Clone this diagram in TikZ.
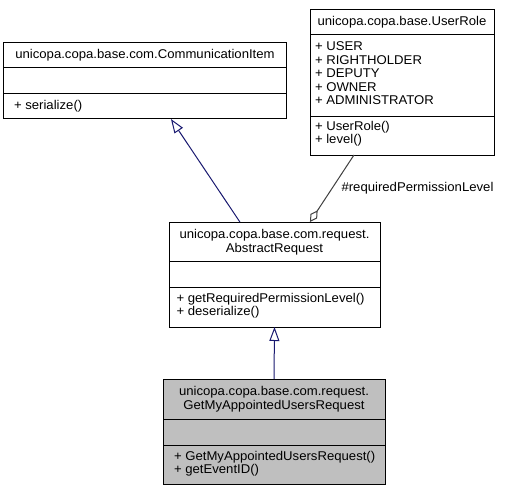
\documentclass[tikz,border=0pt]{standalone}
\usepackage{fontspec}
\setmainfont{Liberation Sans}[FakeStretch=1.035]
\usetikzlibrary{arrows.meta,calc}
\definecolor{edgeblue}{HTML}{191970}
\definecolor{aggrgrey}{HTML}{404040}
\definecolor{curfill}{HTML}{BFBFBF}
\begin{document}
\begin{tikzpicture}[x=1bp,y=-1bp,
  box/.style={draw=black,line width=1bp,inner sep=0pt,outer sep=0pt},
  txt/.style={inner sep=0pt,outer sep=0pt,font=\fontsize{12.7bp}{13.5bp}\selectfont},
  ctxt/.style={txt,anchor=base},
  ltxt/.style={txt,anchor=base west},
  divider/.style={draw=black,line width=1bp},
  inherit/.style={draw=edgeblue,line width=1bp,-{Triangle[open,length=14bp,width=10bp]}},
  aggr/.style={draw=aggrgrey,line width=1bp,-{Diamond[open,length=14bp,width=8bp]}}]
\useasboundingbox (0,0) rectangle (505,491);
\fill[white] (0,0) rectangle (505,491);

% CommunicationItem
\node[box,minimum width=282bp,minimum height=76bp] (ci) at (145,81) {};
\draw[divider] (4,68) -- (286,68);
\draw[divider] (4,94) -- (286,94);
\node[ctxt] (ciT) at (145,58.8) {unicopa.copa.base.com.CommunicationItem};
\node[ltxt] (ciM) at (14,109.8) {+ serialize()};

% UserRole
\node[box,minimum width=184bp,minimum height=145bp] (ur) at (402,82.5) {};
\draw[divider] (310,35) -- (494,35);
\draw[divider] (310,117) -- (494,117);
\node[ctxt] (urT) at (402,25.5) {unicopa.copa.base.UserRole};
\node[ltxt] (ur1) at (315,50.8) {+ USER};
\node[ltxt] (ur2) at (315,64.3) {+ RIGHTHOLDER};
\node[ltxt] (ur3) at (315,77.8) {+ DEPUTY};
\node[ltxt] (ur4) at (315,91.3) {+ OWNER};
\node[ltxt] (ur5) at (315,104.8) {+ ADMINISTRATOR};
\node[ltxt] (ur6) at (315,130.5) {+ UserRole()};
\node[ltxt] (ur7) at (315,144) {+ level()};

% AbstractRequest
\node[box,minimum width=211bp,minimum height=105bp] (ar) at (274.5,274.5) {};
\draw[divider] (169,261) -- (380,261);
\draw[divider] (169,287) -- (380,287);
\node[ctxt] (arT1) at (274.5,238.5) {unicopa.copa.base.com.request.};
\node[ctxt] (arT2) at (274.5,252) {AbstractRequest};
\node[ltxt] (arM1) at (176.5,302) {+ getRequiredPermissionLevel()};
\node[ltxt] (arM2) at (176.5,315.5) {+ deserialize()};

% GetMyAppointedUsersRequest
\node[box,fill=curfill,minimum width=222bp,minimum height=105bp] (gm) at (274,431.5) {};
\draw[divider] (163,419) -- (385,419);
\draw[divider] (163,445) -- (385,445);
\node[ctxt] (gmT1) at (274,395.8) {unicopa.copa.base.com.request.};
\node[ctxt] (gmT2) at (274,409.3) {GetMyAppointedUsersRequest};
\node[ltxt] (gmM1) at (174,460) {+ GetMyAppointedUsersRequest()};
\node[ltxt] (gmM2) at (174,473.5) {+ getEventID()};

% connector end points on the boxes
\coordinate (arTopA) at ($(ar.north west)!0.336!(ar.north east)$);
\coordinate (arTopB) at ($(ar.north west)!0.668!(ar.north east)$);
\coordinate (ciBot) at ($(ci.south west)!0.592!(ci.south east)$);
\coordinate (urBot) at ($(ur.south west)!0.239!(ur.south east)$);

% connectors
\draw[inherit] (gm.north) -- (ar.south);
\draw[inherit] (arTopA) -- (ciBot);
\draw[aggr] (urBot) -- (arTopB);
\node[txt,anchor=base west] (lbl) at (341.5,192) {\#requiredPermissionLevel};
\end{tikzpicture}
\end{document}
